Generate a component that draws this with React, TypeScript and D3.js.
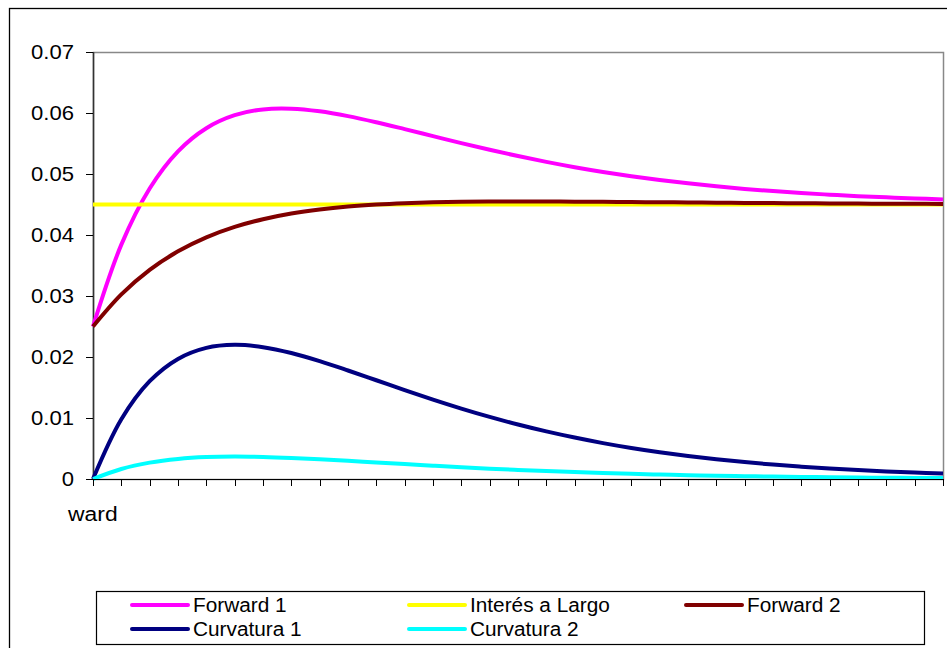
import React from "react";
import * as d3 from "d3";

// category index 0..30 (plazo)
const categories: number[] = d3.range(0, 31);
const categoryLabel = "ward";

const forward1: number[] = [
  0.025, 0.03842, 0.04763, 0.05372, 0.05751, 0.05964, 0.06059, 0.06071, 0.06028, 0.05949,
  0.05848, 0.05736, 0.05621, 0.05506, 0.05397, 0.05294, 0.05199, 0.05112, 0.05034, 0.04964,
  0.04902, 0.04847, 0.04799, 0.04756, 0.0472, 0.04688, 0.04661, 0.04637, 0.04617, 0.04599,
  0.04584,
];
const interesLargo: number[] = [
  0.045, 0.045, 0.045, 0.045, 0.045, 0.045, 0.045, 0.045, 0.045, 0.045,
  0.045, 0.045, 0.045, 0.045, 0.045, 0.045, 0.045, 0.045, 0.045, 0.045,
  0.045, 0.045, 0.045, 0.045, 0.045, 0.045, 0.045, 0.045, 0.045, 0.045,
  0.045,
];
const forward2: number[] = [
  0.025, 0.03026, 0.03428, 0.03732, 0.03961, 0.04132, 0.04259, 0.04352, 0.04419, 0.04467,
  0.045, 0.04522, 0.04536, 0.04545, 0.04549, 0.0455, 0.04549, 0.04547, 0.04544, 0.0454,
  0.04537, 0.04533, 0.04529, 0.04526, 0.04523, 0.0452, 0.04518, 0.04515, 0.04513, 0.04512,
  0.0451,
];
const curvatura1: number[] = [
  0, 0.00979, 0.01603, 0.01969, 0.0215, 0.022, 0.02161, 0.02065, 0.01932, 0.01779,
  0.01619, 0.01458, 0.01302, 0.01155, 0.01018, 0.00893, 0.0078, 0.00679, 0.00588, 0.00508,
  0.00438, 0.00377, 0.00323, 0.00277, 0.00236, 0.00202, 0.00172, 0.00146, 0.00124, 0.00105,
  0.00089,
];
const curvatura2: number[] = [
  0, 0.00164, 0.00268, 0.00329, 0.0036, 0.00368, 0.00361, 0.00345, 0.00323, 0.00298,
  0.00271, 0.00244, 0.00218, 0.00193, 0.0017, 0.00149, 0.0013, 0.00114, 0.00098, 0.00085,
  0.00073, 0.00063, 0.00054, 0.00046, 0.0004, 0.00034, 0.00029, 0.00024, 0.00021, 0.00018,
  0.00015,
];

const yTicks: number[] = [0, 0.01, 0.02, 0.03, 0.04, 0.05, 0.06, 0.07];
const yTickLabels: string[] = ["0", "0.01", "0.02", "0.03", "0.04", "0.05", "0.06", "0.07"];

const seriesNames: string[] = ["Forward 1", "Interés a Largo", "Forward 2", "Curvatura 1", "Curvatura 2"];
const seriesColors: string[] = ["#FF00FF", "#FFFF00", "#800000", "#000080", "#00FFFF"];
const seriesData: number[][] = [forward1, interesLargo, forward2, curvatura1, curvatura2];

const W = 947;
const H = 648;
const plot = { left: 93, top: 52, right: 943, bottom: 479 };
const FONT = "'Liberation Sans', Arial, sans-serif";

const stretch = (ax: number, s: number) => `translate(${ax},0) scale(${s},1) translate(${-ax},0)`;

export default function App() {
  const x = d3
    .scaleLinear()
    .domain([0, categories.length - 1])
    .range([plot.left, plot.right]);
  const y = d3.scaleLinear().domain([0, 0.07]).range([plot.bottom, plot.top]);

  const line = (vals: number[]) =>
    d3
      .line<number>()
      .x((_, i) => x(categories[i]))
      .y((v) => y(v))
      .curve(d3.curveCatmullRom.alpha(0.5))(vals) || "";

  const legendCols = [132, 409, 686];
  const legendRows = [605, 629];

  return (
    <svg
      width={W}
      height={H}
      style={{ position: "absolute", left: 0, top: 0, display: "block", background: "#fff" }}
      fontFamily={FONT}
    >
      <rect x={0} y={0} width={W} height={H} fill="#fff" />
      {/* outer chart border */}
      <rect x={9.5} y={8.5} width={950} height={660} fill="none" stroke="#000" strokeWidth={1.3} />
      {/* plot area border */}
      <rect
        x={plot.left + 0.5}
        y={plot.top + 0.5}
        width={plot.right - plot.left}
        height={plot.bottom - plot.top}
        fill="none"
        stroke="#888"
        strokeWidth={1.5}
      />
      {/* y axis */}
      <line x1={plot.left + 0.5} x2={plot.left + 0.5} y1={plot.top} y2={plot.bottom} stroke="#333" strokeWidth={1.5} />
      {yTicks.map((t, i) => (
        <g key={t}>
          <line x1={plot.left - 7} x2={plot.left} y1={Math.round(y(t)) + 0.5} y2={Math.round(y(t)) + 0.5} stroke="#000" />
          <text
            x={74}
            y={y(t)}
            dy="0.35em"
            textAnchor="end"
            fontSize={21}
            fill="#000"
            transform={stretch(74, 1.05)}
          >
            {yTickLabels[i]}
          </text>
        </g>
      ))}
      {/* series */}
      {seriesData.map((vals, i) => (
        <path key={seriesNames[i]} d={line(vals)} fill="none" stroke={seriesColors[i]} strokeWidth={4} strokeLinejoin="round" />
      ))}
      {/* x axis */}
      <line x1={plot.left} x2={plot.right} y1={plot.bottom + 0.5} y2={plot.bottom + 0.5} stroke="#000" />
      {categories.map((c) => (
        <line
          key={c}
          x1={Math.round(x(c)) + 0.5}
          x2={Math.round(x(c)) + 0.5}
          y1={plot.bottom}
          y2={plot.bottom + 7}
          stroke="#000"
        />
      ))}
      <text x={x(0)} y={521} textAnchor="middle" fontSize={21} fill="#000" transform={stretch(x(0) + 1, 1.09)}>
        {categoryLabel}
      </text>
      {/* legend */}
      <rect x={96.5} y={591.5} width={828} height={53} fill="#fff" stroke="#000" strokeWidth={1.2} />
      {seriesNames.map((name, i) => {
        const cx = legendCols[i % 3];
        const cy = legendRows[Math.floor(i / 3)];
        return (
          <g key={name}>
            <line x1={cx} x2={cx + 56} y1={cy} y2={cy} stroke={seriesColors[i]} strokeWidth={4} strokeLinecap="round" />
            <text x={cx + 61} y={cy} dy="0.35em" fontSize={20} fill="#000" transform={stretch(cx + 61, 1.04)}>
              {name}
            </text>
          </g>
        );
      })}
    </svg>
  );
}
